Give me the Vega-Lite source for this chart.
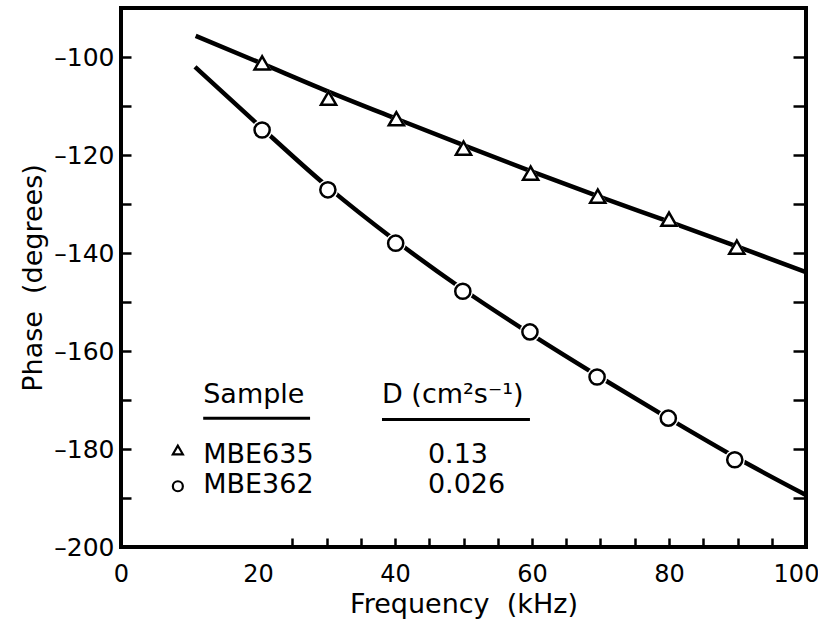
{
  "$schema": "https://vega.github.io/schema/vega-lite/v6.json",
  "width": 685,
  "height": 539,
  "autosize": {"type": "none"},
  "padding": {"left": 121, "top": 8, "right": 12, "bottom": 78},
  "background": "white",
  "config": {
    "font": "DejaVu Sans",
    "view": {"stroke": "black", "strokeWidth": 4},
    "axis": {"grid": false, "domain": false, "labelColor": "black", "titleColor": "black", "tickColor": "black", "tickWidth": 2.5, "titleFontWeight": "normal"}
  },
  "datasets": {
    "fits": [
      {"sample": "MBE635", "freq": 10.9, "phase": -95.7},
      {"sample": "MBE635", "freq": 20, "phase": -101.0},
      {"sample": "MBE635", "freq": 30, "phase": -106.9},
      {"sample": "MBE635", "freq": 40, "phase": -112.5},
      {"sample": "MBE635", "freq": 50, "phase": -118.0},
      {"sample": "MBE635", "freq": 60, "phase": -123.4},
      {"sample": "MBE635", "freq": 70, "phase": -128.6},
      {"sample": "MBE635", "freq": 80, "phase": -133.6},
      {"sample": "MBE635", "freq": 90, "phase": -138.7},
      {"sample": "MBE635", "freq": 100, "phase": -143.9},
      {"sample": "MBE362", "freq": 10.8, "phase": -102.0},
      {"sample": "MBE362", "freq": 20, "phase": -113.8},
      {"sample": "MBE362", "freq": 30, "phase": -126.3},
      {"sample": "MBE362", "freq": 40, "phase": -137.4},
      {"sample": "MBE362", "freq": 50, "phase": -147.5},
      {"sample": "MBE362", "freq": 60, "phase": -156.7},
      {"sample": "MBE362", "freq": 70, "phase": -165.4},
      {"sample": "MBE362", "freq": 80, "phase": -173.8},
      {"sample": "MBE362", "freq": 90, "phase": -181.9},
      {"sample": "MBE362", "freq": 100, "phase": -189.4}
    ],
    "points": [
      {"sample": "MBE635", "freq": 20.6, "phase": -101.2},
      {"sample": "MBE635", "freq": 30.3, "phase": -108.4},
      {"sample": "MBE635", "freq": 40.2, "phase": -112.6},
      {"sample": "MBE635", "freq": 50.0, "phase": -118.6},
      {"sample": "MBE635", "freq": 59.8, "phase": -123.7},
      {"sample": "MBE635", "freq": 69.6, "phase": -128.4},
      {"sample": "MBE635", "freq": 80.0, "phase": -133.1},
      {"sample": "MBE635", "freq": 89.9, "phase": -138.8},
      {"sample": "MBE362", "freq": 20.6, "phase": -114.9},
      {"sample": "MBE362", "freq": 30.2, "phase": -127.1},
      {"sample": "MBE362", "freq": 40.1, "phase": -138.0},
      {"sample": "MBE362", "freq": 49.9, "phase": -147.8},
      {"sample": "MBE362", "freq": 59.7, "phase": -156.1},
      {"sample": "MBE362", "freq": 69.5, "phase": -165.3},
      {"sample": "MBE362", "freq": 79.9, "phase": -173.7},
      {"sample": "MBE362", "freq": 89.6, "phase": -182.2}
    ],
    "keymarks": [
      {"sample": "MBE635", "freq": 8.3, "phase": -180.2},
      {"sample": "MBE362", "freq": 8.3, "phase": -187.6}
    ],
    "keytext": [
      {"label": "Sample", "freq": 12.0, "phase": -170.6},
      {"label": "D (cm²s⁻¹)", "freq": 38.1, "phase": -170.6},
      {"label": "MBE635", "freq": 12.0, "phase": -182.8},
      {"label": "MBE362", "freq": 12.0, "phase": -189.0},
      {"label": "0.13", "freq": 44.8, "phase": -182.8},
      {"label": "0.026", "freq": 44.8, "phase": -189.0}
    ],
    "keylines": [
      {"freq": 12.0, "freq2": 27.6, "phase": -173.7},
      {"freq": 38.1, "freq2": 59.7, "phase": -174.0}
    ]
  },
  "layer": [
    {
      "layer": [
        {
          "data": {"name": "fits"},
          "mark": {"type": "line", "color": "black", "strokeWidth": 4.5, "interpolate": "monotone"},
          "encoding": {
            "x": {
              "field": "freq", "type": "quantitative",
              "scale": {"domain": [0, 100], "nice": false, "zero": false},
              "axis": {
                "orient": "bottom",
                "title": "Frequency\u00a0\u00a0(kHz)",
                "titleFontSize": 27,
                "titlePadding": 5,
                "values": [0, 20, 25, 30, 35, 40, 45, 50, 55, 60, 65, 70, 75, 80, 85, 90, 95, 100],
                "labelExpr": "datum.value % 20 === 0 ? datum.label : ''",
                "labelFontSize": 24,
                "labelFlush": false,
                "labelOverlap": false,
                "labelPadding": 24,
                "labelOffset": {"condition": {"test": "datum.value === 100", "value": -10}, "value": 0},
                "tickSize": -9,
                "tickOpacity": {"condition": {"test": "datum.value < 25 || datum.value > 95", "value": 0}, "value": 1}
              }
            },
            "y": {
              "field": "phase", "type": "quantitative",
              "scale": {"domain": [-200, -90], "nice": false, "zero": false},
              "axis": {
                "orient": "left",
                "title": "Phase\u00a0\u00a0(degrees)",
                "titleFontSize": 27,
                "titlePadding": 6,
                "values": [-200, -190, -180, -170, -160, -150, -140, -130, -120, -110, -100],
                "labelExpr": "datum.value % 20 === 0 ? '–' + format(abs(datum.value), 'd') : ''",
                "labelFontSize": 25,
                "labelOverlap": false,
                "labelFlush": false,
                "labelPadding": 17,
                "tickSize": -10
              }
            },
            "detail": {"field": "sample"}
          }
        },
        {
          "data": {"name": "points"},
          "mark": {"type": "point", "filled": true, "color": "white", "opacity": 1, "size": 420},
          "encoding": {
            "x": {"field": "freq", "type": "quantitative"},
            "y": {"field": "phase", "type": "quantitative"},
            "shape": {"field": "sample", "type": "nominal", "scale": {"domain": ["MBE635", "MBE362"], "range": ["triangle-up", "circle"]}, "legend": null}
          }
        },
        {
          "data": {"name": "points"},
          "mark": {"type": "point", "filled": false, "fill": "white", "fillOpacity": 1, "stroke": "black", "strokeWidth": 2.5, "opacity": 1, "size": 230},
          "encoding": {
            "x": {"field": "freq", "type": "quantitative"},
            "y": {"field": "phase", "type": "quantitative"},
            "shape": {"field": "sample", "type": "nominal", "legend": null}
          }
        },
        {
          "data": {"name": "keymarks"},
          "mark": {"type": "point", "filled": false, "fill": "white", "fillOpacity": 1, "stroke": "black", "strokeWidth": 2.2, "opacity": 1, "size": 100},
          "encoding": {
            "x": {"field": "freq", "type": "quantitative"},
            "y": {"field": "phase", "type": "quantitative"},
            "shape": {"field": "sample", "type": "nominal", "legend": null}
          }
        },
        {
          "data": {"name": "keytext"},
          "mark": {"type": "text", "align": "left", "baseline": "alphabetic", "fontSize": 27, "color": "black"},
          "encoding": {
            "x": {"field": "freq", "type": "quantitative"},
            "y": {"field": "phase", "type": "quantitative"},
            "text": {"field": "label"}
          }
        },
        {
          "data": {"name": "keylines"},
          "mark": {"type": "rule", "color": "black", "strokeWidth": 3},
          "encoding": {
            "x": {"field": "freq", "type": "quantitative"},
            "x2": {"field": "freq2"},
            "y": {"field": "phase", "type": "quantitative"}
          }
        }
      ]
    },
    {
      "data": {"name": "points"},
      "mark": {"type": "point", "opacity": 0},
      "encoding": {
        "x": {"field": "freq", "type": "quantitative"},
        "y": {
          "field": "phase", "type": "quantitative",
          "scale": {"domain": [-200, -90], "nice": false, "zero": false},
          "axis": {
            "orient": "right",
            "title": null,
            "labels": false,
            "values": [-190, -180, -170, -160, -150, -140, -130, -120, -110, -100],
            "tickSize": -13
          }
        }
      }
    }
  ],
  "resolve": {"scale": {"y": "independent"}, "axis": {"y": "independent"}}
}
